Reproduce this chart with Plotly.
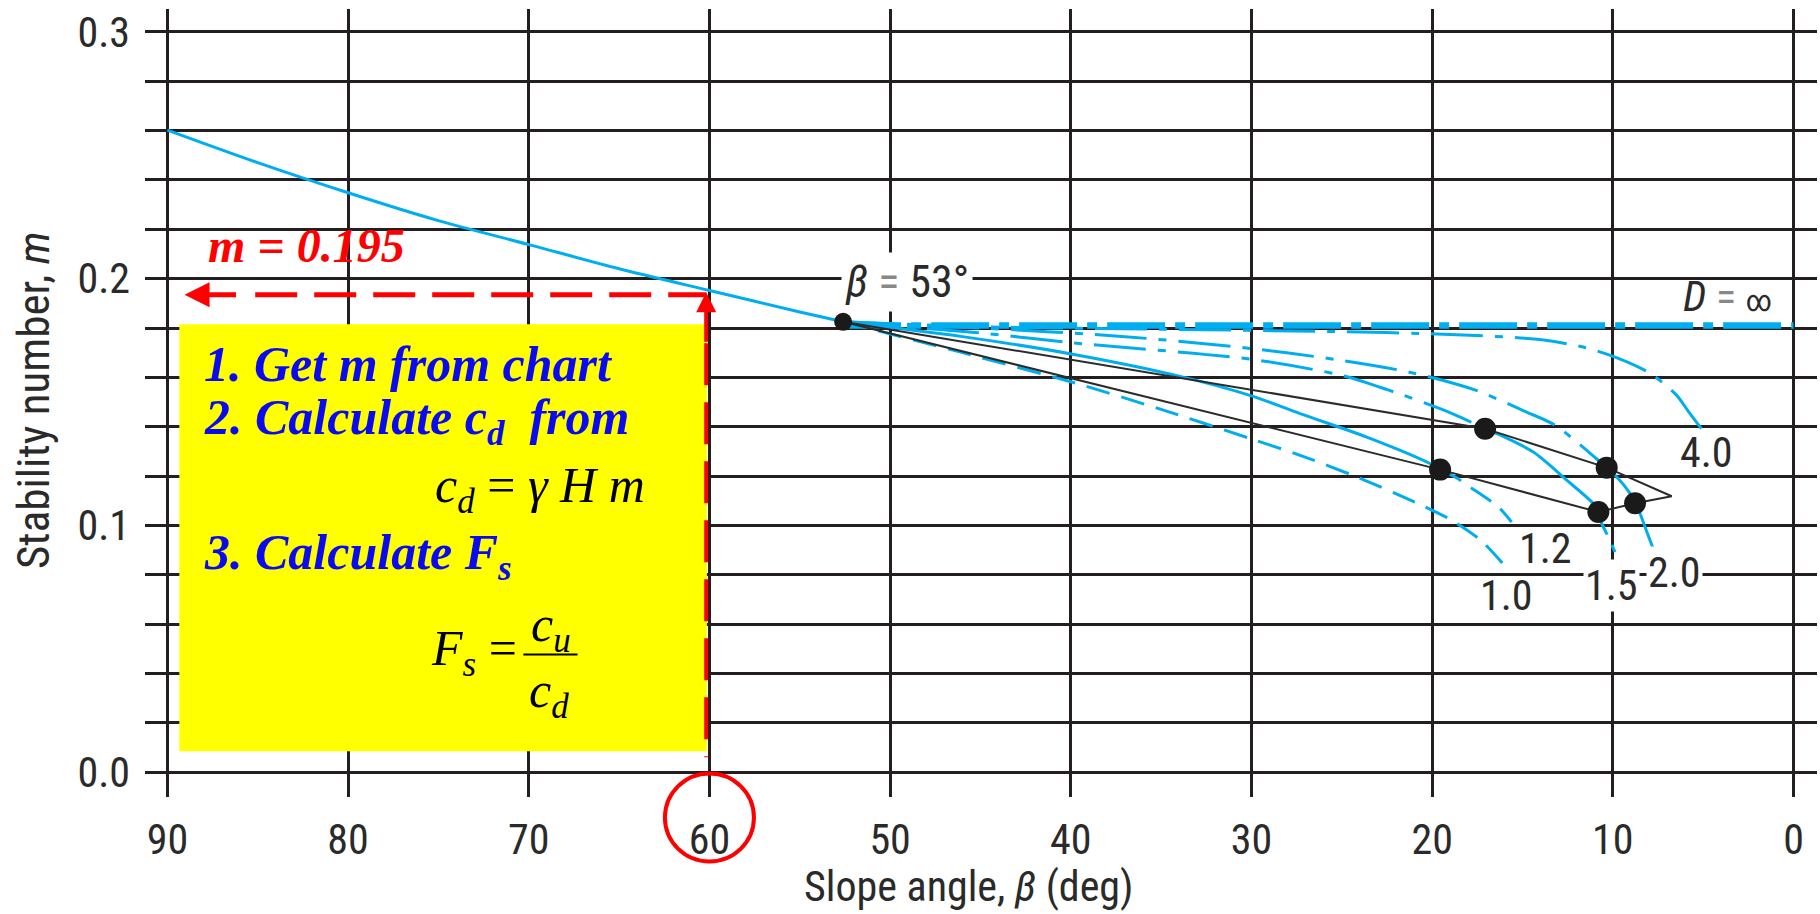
import plotly.graph_objects as go

# ---------------- data ----------------
x_tick_vals = [90, 80, 70, 60, 50, 40, 30, 20, 10, 0]
y_tick_vals = [0.0, 0.1, 0.2, 0.3]

# toe-circle curve for beta > 53 deg
main_beta = [90, 85, 80, 75, 70, 65, 60, 55, 52.6]
main_m = [0.2602, 0.2470, 0.2348, 0.2235, 0.2138, 0.2040, 0.1952, 0.1865, 0.1825]

# D = infinity
dinf_beta = [52.6, 0]
dinf_m = [0.181, 0.181]

# D = 4.0
d40_beta = [52.6, 45, 35, 25, 19.4, 14.2, 11.5, 9.8, 8.0, 6.5, 5.8, 5.1]
d40_m = [0.1825, 0.1805, 0.1795, 0.1785, 0.1775, 0.1754, 0.1720, 0.1680, 0.1619, 0.1530, 0.1460, 0.1392]

# D = 2.0 (slope-circle part, then toe part)
d20a_beta = [52.6, 45, 37, 30.4, 25.4, 21.2, 17.6, 14.8, 13.2, 10.9, 10.34]
d20a_m = [0.1825, 0.1800, 0.1765, 0.1720, 0.1673, 0.1620, 0.1548, 0.1460, 0.1406, 0.1270, 0.1234]
d20b_beta = [10.34, 9.78, 9.1, 8.77, 8.49, 8.1, 7.66]
d20b_m = [0.1234, 0.1196, 0.1135, 0.1090, 0.1047, 0.0970, 0.0885]

# D = 1.5
d15a_beta = [52.6, 45, 39.9, 30, 24.9, 22.4, 19.56, 18.73, 17.07]
d15a_m = [0.1825, 0.1780, 0.1740, 0.1673, 0.1606, 0.1548, 0.1473, 0.1448, 0.1392]
d15b_beta = [17.07, 16.42, 14.4, 12.55, 11.08, 10.8]
d15b_m = [0.1392, 0.1372, 0.1297, 0.1183, 0.1088, 0.1054]
d15c_beta = [10.8, 10.61, 10.25, 9.88]
d15c_m = [0.1054, 0.1007, 0.0953, 0.0892]

# D = 1.2
d12a_beta = [52.6, 46, 39.9, 34, 30, 27.31, 23.62, 20.3, 19.56]
d12a_m = [0.1825, 0.1765, 0.1694, 0.1605, 0.1525, 0.1453, 0.1358, 0.1257, 0.1226]
d12b_beta = [19.56, 18.73, 17.9, 16.7, 16.24, 15.6]
d12b_m = [0.1226, 0.1196, 0.1155, 0.1095, 0.1068, 0.1013]

# D = 1.0
d10_beta = [52.6, 46, 39.9, 35, 30, 27.31, 24.4, 20.8, 18.9, 17.3, 16.1]
d10_m = [0.1825, 0.1700, 0.1580, 0.1470, 0.1350, 0.1284, 0.1203, 0.1089, 0.1020, 0.0939, 0.0846]

# black boundary lines and points
blk_up_beta = [52.6, 17.07, 10.34, 6.74]
blk_up_m = [0.1825, 0.1392, 0.1234, 0.1118]
blk_lo_beta = [52.6, 19.56, 10.8, 8.77, 6.74]
blk_lo_m = [0.1825, 0.1226, 0.1054, 0.1090, 0.1118]
dot_beta = [17.07, 19.56, 10.34, 10.8, 8.77]
dot_m = [0.1392, 0.1226, 0.1234, 0.1054, 0.1090]
p53_beta = [52.6]
p53_m = [0.1825]

# curve labels
lab_text = ["4.0", "1.2", "1.0", "1.5", "2.0"]
lab_beta = [4.80, 13.75, 15.87, 10.06, 6.56]
lab_m = [0.1297, 0.0905, 0.0716, 0.0757, 0.0811]
lab_bg = [False, False, False, True, True]

# worked example
m_read = 0.1935
beta_read = 60.18

# ---------------- styles ----------------
BLUE = "#00AEEF"
GRID = "#231F20"
TXT = "#2a2a2a"
SANS = "Liberation Sans Narrow, Roboto Condensed, Liberation Sans, Arial"
SERIF = "Liberation Serif, Times New Roman, serif"
DASHDOT = "52px,12px,8px,12px"
DASH = "24px,12px"

fig = go.Figure()


def line(x, y, color=BLUE, width=3, dash="solid", shape="spline"):
    fig.add_trace(go.Scatter(x=x, y=y, mode="lines", hoverinfo="skip",
                             line=dict(color=color, width=width, dash=dash,
                                       shape=shape, smoothing=0.8)))


line(main_beta, main_m)
line(d10_beta, d10_m, dash=DASH)
line(d12a_beta, d12a_m)
line(d12b_beta, d12b_m, dash=DASH)
line(d15a_beta, d15a_m, dash=DASHDOT)
line(d15b_beta, d15b_m)
line(d15c_beta, d15c_m, dash=DASH)
line(d20a_beta, d20a_m, dash=DASHDOT)
line(d20b_beta, d20b_m)
line(d40_beta, d40_m, dash=DASHDOT)
line(dinf_beta, dinf_m, width=6.5, dash="58px,10px,10px,10px", shape="linear")
line(blk_up_beta, blk_up_m, color="#2b2b2b", width=2, shape="linear")
line(blk_lo_beta, blk_lo_m, color="#2b2b2b", width=2, shape="linear")

fig.add_trace(go.Scatter(x=dot_beta, y=dot_m, mode="markers", hoverinfo="skip",
                         marker=dict(size=22, color="#1a1a1a")))
fig.add_trace(go.Scatter(x=p53_beta, y=p53_m, mode="markers", hoverinfo="skip",
                         marker=dict(size=18, color="#1a1a1a")))

# red read-off lines (dashed)
fig.add_trace(go.Scatter(x=[85.14, beta_read], y=[m_read, m_read], mode="lines",
                         hoverinfo="skip",
                         line=dict(color="#FF0000", width=5, dash="42px,17px")))
fig.add_trace(go.Scatter(x=[beta_read, beta_read], y=[0.1738, 0.006], mode="lines",
                         hoverinfo="skip",
                         line=dict(color="#FF0000", width=4, dash="42px,17px")))

annotations = []
# arrow heads
annotations.append(dict(x=89.05, y=m_read, ax=86.12, ay=m_read, xref="x", yref="y",
                        axref="x", ayref="y", text="", showarrow=True, arrowhead=2,
                        arrowsize=1, arrowwidth=5, arrowcolor="#FF0000", standoff=0))
annotations.append(dict(x=beta_read, y=0.1945, ax=beta_read, ay=0.1738, xref="x", yref="y",
                        axref="x", ayref="y", text="", showarrow=True, arrowhead=2,
                        arrowsize=1, arrowwidth=4, arrowcolor="#FF0000", standoff=0))

# curve labels
for t, bx, my, bg in zip(lab_text, lab_beta, lab_m, lab_bg):
    annotations.append(dict(x=bx, y=my, xref="x", yref="y", text=t, showarrow=False,
                            font=dict(family=SANS, size=42, color=TXT),
                            bgcolor="white" if bg else None, borderpad=1))

annotations.append(dict(x=49.06, y=0.1985, xref="x", yref="y", showarrow=False,
                        text="<i>β</i> <span style='color:#888'>=</span> 53°",
                        font=dict(family=SANS, size=44, color=TXT),
                        bgcolor="white", borderpad=3))
annotations.append(dict(x=3.68, y=0.1927, xref="x", yref="y", showarrow=False,
                        text="<i>D</i> <span style='color:#888'>=</span> "
                             "<span style='font-size:30px'>∞</span>",
                        font=dict(family=SANS, size=42, color=TXT)))

# red value text
annotations.append(dict(x=82.29, y=0.2136, xref="x", yref="y", showarrow=False,
                        text="<b><i>m = 0.195</i></b>",
                        font=dict(family=SERIF, size=48, color="#FF0000")))

# yellow box texts
BLUE_T = "#0A0AF0"
for txt, yy in [("1. Get m from chart", 0.1653),
                ("2. Calculate c<sub>d</sub>  from", 0.1424),
                ("3. Calculate F<sub>s</sub>", 0.0876)]:
    annotations.append(dict(x=88.1, y=yy, xref="x", yref="y", showarrow=False,
                            xanchor="left", text="<b><i>" + txt + "</i></b>",
                            font=dict(family=SERIF, size=50, color=BLUE_T)))

annotations.append(dict(x=75.3, y=0.1146, xref="x", yref="y", showarrow=False,
                        xanchor="left",
                        text="<i>c</i><sub><i>d</i></sub> = <i>γ</i> <i>H</i> <i>m</i>",
                        font=dict(family=SERIF, size=50, color="black")))
annotations.append(dict(x=75.5, y=0.0487, xref="x", yref="y", showarrow=False,
                        xanchor="left",
                        text="<i>F</i><sub><i>s</i></sub> =",
                        font=dict(family=SERIF, size=50, color="black")))
annotations.append(dict(x=68.76, y=0.0585, xref="x", yref="y", showarrow=False,
                        text="<i>c</i><sub><i>u</i></sub>",
                        font=dict(family=SERIF, size=50, color="black")))
annotations.append(dict(x=68.90, y=0.0315, xref="x", yref="y", showarrow=False,
                        text="<i>c</i><sub><i>d</i></sub>",
                        font=dict(family=SERIF, size=50, color="black")))

# axis titles
annotations.append(dict(x=0.4928, y=-0.1135, xref="paper", yref="paper", showarrow=False,
                        xanchor="center", yanchor="middle",
                        text="Slope angle, <i>β</i> (deg)",
                        font=dict(family=SANS, size=42, color=TXT)))
annotations.append(dict(x=-0.067, y=0.5038, xref="paper", yref="paper", showarrow=False,
                        xanchor="center", yanchor="middle",
                        textangle=-90, text="Stability number, <i>m</i>",
                        font=dict(family=SANS, size=45, color=TXT)))

shapes = [
    dict(type="rect", xref="x", yref="y", x0=89.34, x1=60.14, y0=0.0084, y1=0.1815,
         fillcolor="#FFFF00", line=dict(width=0), layer="between"),
    dict(type="line", xref="x", yref="y", x0=70.3, x1=67.3, y0=0.0477, y1=0.0477,
         line=dict(color="black", width=2)),
    dict(type="circle", xref="x", yref="paper", xsizemode="pixel", ysizemode="pixel",
         xanchor=60, yanchor=-0.026, x0=-44.5, x1=44.5, y0=-44, y1=44,
         line=dict(color="#FF0000", width=4)),
]

fig.update_layout(
    width=1820, height=914,
    margin=dict(l=145, r=3, t=9, b=117),
    paper_bgcolor="white", plot_bgcolor="white",
    showlegend=False,
    annotations=annotations,
    shapes=shapes,
    xaxis=dict(range=[91.24, -1.30], tickmode="array", tickvals=x_tick_vals,
               ticktext=[str(v) for v in x_tick_vals],
               showgrid=True, gridcolor=GRID, gridwidth=2.5, zeroline=False,
               showline=False, ticks="", ticklabelstandoff=14,
               tickfont=dict(family=SANS, size=42, color=TXT)),
    yaxis=dict(range=[-0.0101, 0.3093], tickmode="array", tickvals=y_tick_vals,
               ticktext=["%.1f" % v for v in y_tick_vals],
               showgrid=True, gridcolor=GRID, gridwidth=3, zeroline=False,
               showline=False, ticks="", ticklabelstandoff=14,
               tickfont=dict(family=SANS, size=42, color=TXT),
               minor=dict(tick0=0, dtick=0.02, showgrid=True, gridcolor=GRID,
                          gridwidth=3, ticks="")),
)

fig.write_html("out.html", config={"displayModeBar": False},
               post_script="document.body.style.margin='0';document.body.style.overflow='hidden';")
